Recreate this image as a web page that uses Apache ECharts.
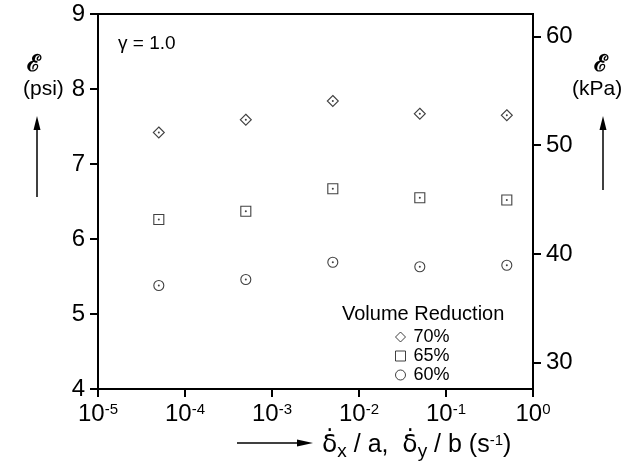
<!DOCTYPE html>
<html>
<head>
<meta charset="utf-8">
<script src="https://cdn.jsdelivr.net/npm/echarts@6/dist/echarts.min.js"></script>
<style>
  html, body { margin: 0; padding: 0; background: #fff; }
  #main { width: 631px; height: 463px; }
</style>
</head>
<body>
<div id="main"></div>
<script>
// strain rates (s^-1), log axis
var rates = [5e-5, 5e-4, 5e-3, 5e-2, 5e-1];
// energy in psi for each volume reduction
var vr70 = [7.42, 7.59, 7.84, 7.67, 7.65];
var vr65 = [6.26, 6.37, 6.67, 6.55, 6.52];
var vr60 = [5.38, 5.46, 5.69, 5.63, 5.65];
var seriesNames = ['70%', '65%', '60%'];
var psiTicks = [4, 5, 6, 7, 8, 9];
var kpaTicks = [30, 40, 50, 60];
var PSI_TO_KPA = 6.895;

function pairs(xs, ys) {
    var out = [];
    for (var i = 0; i < xs.length; i++) out.push([xs[i], ys[i]]);
    return out;
}

var font = 'Liberation Sans, Arial, sans-serif';
var myChart = echarts.init(document.getElementById('main'));

function markSeries(name, ys, symbol, size) {
    return {
        name: name,
        type: 'scatter',
        data: pairs(rates, ys),
        symbol: symbol,
        symbolSize: size,
        itemStyle: { color: '#fff', borderColor: '#111', borderWidth: 1.1 }
    };
}
function dotSeries(ys) {
    return {
        type: 'scatter',
        data: pairs(rates, ys),
        symbol: 'circle',
        symbolSize: 2,
        silent: true,
        itemStyle: { color: '#111' }
    };
}

var option = {
    backgroundColor: '#fff',
    animation: false,
    grid: {
        left: 98, right: 98, top: 14, bottom: 74,
        show: true, borderColor: '#000', borderWidth: 2
    },
    xAxis: {
        type: 'log',
        logBase: 10,
        min: 1e-5,
        max: 1,
        axisLine: { lineStyle: { color: '#000', width: 2 } },
        axisTick: { inside: false, length: 8, lineStyle: { color: '#000', width: 2 } },
        splitLine: { show: false },
        minorTick: { show: false },
        axisLabel: {
            margin: 13,
            color: '#000',
            fontFamily: font,
            fontSize: 24,
            formatter: function (v) {
                var e = Math.round(Math.log10(v));
                return '10{sup|' + e + '}';
            },
            rich: {
                sup: { fontSize: 15, fontFamily: font, color: '#000', verticalAlign: 'top', lineHeight: 14, padding: [0, 0, 3, 0] }
            }
        }
    },
    yAxis: [{
        type: 'value',
        min: psiTicks[0],
        max: psiTicks[psiTicks.length - 1],
        interval: 1,
        axisLine: { show: true, lineStyle: { color: '#000', width: 2 } },
        axisTick: { show: true, length: 8, lineStyle: { color: '#000', width: 2 } },
        splitLine: { show: false },
        axisLabel: { margin: 13, color: '#000', fontFamily: font, fontSize: 24 }
    }, {
        type: 'value',
        position: 'right',
        min: psiTicks[0] * PSI_TO_KPA,
        max: psiTicks[psiTicks.length - 1] * PSI_TO_KPA,
        axisLine: { show: true, lineStyle: { color: '#000', width: 2 } },
        axisTick: { show: true, length: 8, customValues: kpaTicks, lineStyle: { color: '#000', width: 2 } },
        splitLine: { show: false },
        axisLabel: { margin: 13, color: '#000', fontFamily: font, fontSize: 24, customValues: kpaTicks }
    }],
    legend: {
        orient: 'vertical',
        left: 395,
        top: 328,
        padding: 0,
        itemGap: 1,
        itemWidth: 10,
        itemHeight: 10,
        data: seriesNames,
        itemStyle: { borderWidth: 1 },
        textStyle: { color: '#000', fontFamily: font, fontSize: 18, padding: [0, 0, 0, 3] }
    },
    graphic: [
        { type: 'text', left: 118, top: 34, style: { text: 'γ = 1.0', font: '19px ' + font, fill: '#000' } },
        { type: 'text', left: 342, top: 304, style: { text: 'Volume Reduction', font: '20px ' + font, fill: '#000' } },
        // left axis title
        { type: 'text', left: 27, top: 54, style: { text: 'ℰ', font: 'bold 23px DejaVu Serif', fill: '#000' } },
        { type: 'text', left: 23, top: 79, style: { text: '(psi)', font: '21px ' + font, fill: '#000' } },
        { type: 'line', shape: { x1: 37, y1: 197, x2: 37, y2: 125 }, style: { stroke: '#000', lineWidth: 1.5 } },
        { type: 'polygon', shape: { points: [[37, 116], [33.5, 130], [40.5, 130]] }, style: { fill: '#000' } },
        // right axis title
        { type: 'text', left: 594, top: 54, style: { text: 'ℰ', font: 'bold 23px DejaVu Serif', fill: '#000' } },
        { type: 'text', left: 572, top: 79, style: { text: '(kPa)', font: '21px ' + font, fill: '#000' } },
        { type: 'line', shape: { x1: 603, y1: 190, x2: 603, y2: 125 }, style: { stroke: '#000', lineWidth: 1.5 } },
        { type: 'polygon', shape: { points: [[603, 116], [599.5, 130], [606.5, 130]] }, style: { fill: '#000' } },
        // x axis title
        { type: 'line', shape: { x1: 237, y1: 443, x2: 300, y2: 443 }, style: { stroke: '#000', lineWidth: 1.5 } },
        { type: 'polygon', shape: { points: [[313, 443], [297, 439.5], [297, 446.5]] }, style: { fill: '#000' } },
        {
            type: 'text', left: 322, top: 421,
            style: {
                text: '{d|δ̇}{sub|x}{m| / a,  }{d|δ̇}{sub|y}{m| / b (s}{sup|-1}{m|)}',
                font: '25px ' + font,
                fill: '#000',
                rich: {
                    m: { fontSize: 25, fontFamily: font, fill: '#000', verticalAlign: 'top', lineHeight: 28 },
                    d: { fontSize: 25, fontFamily: 'DejaVu Sans', fill: '#000', verticalAlign: 'top', lineHeight: 28 },
                    sub: { fontSize: 19, fontFamily: font, fill: '#000', verticalAlign: 'bottom', lineHeight: 18, padding: [21, 0, 0, 0] },
                    sup: { fontSize: 15, fontFamily: font, fill: '#000', verticalAlign: 'top', lineHeight: 16 }
                }
            }
        }
    ],
    series: [
        markSeries(seriesNames[0], vr70, 'diamond', [11, 11]),
        markSeries(seriesNames[1], vr65, 'rect', 10),
        markSeries(seriesNames[2], vr60, 'circle', 10),
        dotSeries(vr70),
        dotSeries(vr65),
        dotSeries(vr60)
    ]
};

myChart.setOption(option);
</script>
</body>
</html>
